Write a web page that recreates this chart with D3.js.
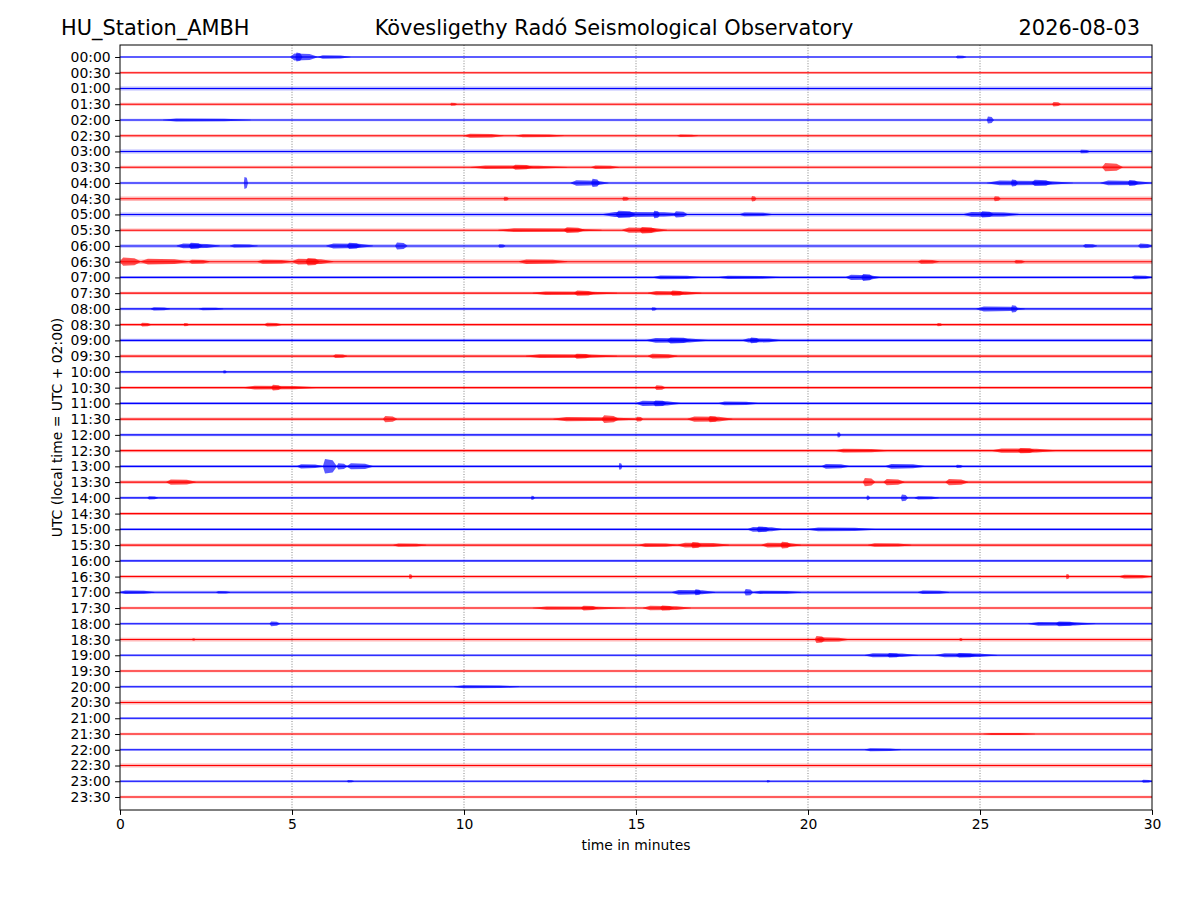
<!DOCTYPE html>
<html>
<head>
<meta charset="utf-8">
<script src="https://cdn.jsdelivr.net/npm/d3@7"></script>
<style>
  html, body { margin: 0; padding: 0; background: #fff; }
  svg { display: block; font-family: "DejaVu Sans", sans-serif; }
</style>
</head>
<body>
<svg id="chart" width="1200" height="900"></svg>
<script>
// ---- DATA ----
const stationTitle = "HU_Station_AMBH";
const observatoryTitle = "Kövesligethy Radó Seismological Observatory";
const dateTitle = "2026-08-03";
const yAxisTitle = "UTC (local time = UTC + 02:00)";
const xAxisTitle = "time in minutes";

const rowLabels = ["00:00","00:30","01:00","01:30","02:00","02:30","03:00","03:30",
  "04:00","04:30","05:00","05:30","06:00","06:30","07:00","07:30",
  "08:00","08:30","09:00","09:30","10:00","10:30","11:00","11:30",
  "12:00","12:30","13:00","13:30","14:00","14:30","15:00","15:30",
  "16:00","16:30","17:00","17:30","18:00","18:30","19:00","19:30",
  "20:00","20:30","21:00","21:30","22:00","22:30","23:00","23:30"];

const xTicks = [0, 5, 10, 15, 20, 25, 30];
const traceColors = ["#0000ff", "#ff0000"];

// background noise half-amplitude per row (fraction of row spacing)
const rowNoise = [0.07,0.08,0.13,0.09,0.08,0.09,0.13,0.09,
  0.08,0.14,0.13,0.10,0.11,0.14,0.09,0.09,
  0.09,0.09,0.10,0.10,0.08,0.09,0.09,0.10,
  0.08,0.11,0.09,0.10,0.08,0.09,0.08,0.10,
  0.08,0.10,0.10,0.08,0.08,0.12,0.08,0.08,
  0.08,0.13,0.08,0.08,0.08,0.12,0.08,0.08];

// bursts per row: [start minute, end minute, half-amplitude (fraction of row spacing)]
const rowBursts = [
  [[4.95,5.75,0.22],[5.1,5.3,0.28],[5.75,6.7,0.11],[24.3,24.6,0.1]],
  [],
  [],
  [[9.6,9.8,0.1],[27.1,27.35,0.14]],
  [[1.25,3.8,0.09],[25.2,25.4,0.22]],
  [[10.0,11.15,0.13],[11.5,12.9,0.09],[16.2,16.8,0.08]],
  [[27.9,28.2,0.11]],
  [[10.2,13.0,0.11],[11.4,12.0,0.16],[13.7,14.5,0.11],[28.55,29.15,0.26]],
  [[3.6,3.72,0.38],[13.1,14.2,0.17],[13.7,13.95,0.26],[25.2,27.7,0.15],[25.9,26.1,0.22],[26.5,27.1,0.2],[28.5,30.0,0.15],[29.3,29.6,0.19]],
  [[11.15,11.3,0.13],[14.6,14.8,0.13],[18.35,18.5,0.17],[25.4,25.6,0.16]],
  [[14.0,16.6,0.16],[14.4,15.0,0.23],[15.5,15.7,0.24],[16.1,16.5,0.2],[18.0,19.0,0.12],[24.5,26.2,0.15],[25.0,25.4,0.2]],
  [[11.0,14.0,0.12],[12.9,13.5,0.18],[14.6,15.9,0.17],[15.1,15.6,0.21]],
  [[1.65,2.9,0.15],[2.0,2.4,0.2],[3.2,4.0,0.1],[6.0,7.35,0.16],[6.6,7.0,0.2],[8.0,8.35,0.22],[11.0,11.2,0.11],[28.0,28.4,0.12],[29.6,30.0,0.15]],
  [[0.0,0.6,0.26],[0.6,2.0,0.18],[2.0,2.6,0.13],[4.0,5.0,0.13],[5.0,6.2,0.18],[5.4,5.8,0.24],[11.6,13.0,0.14],[23.2,23.8,0.13],[26.0,26.3,0.11]],
  [[15.5,16.9,0.12],[17.4,19.2,0.1],[21.1,22.1,0.17],[21.55,21.9,0.22],[29.4,30.0,0.12]],
  [[12.0,14.45,0.11],[13.2,13.8,0.17],[15.35,16.9,0.13],[16.0,16.4,0.17]],
  [[0.9,1.45,0.1],[2.3,3.0,0.08],[15.45,15.6,0.11],[24.9,26.3,0.16],[25.9,26.1,0.23]],
  [[0.6,0.9,0.12],[1.85,2.0,0.1],[4.2,4.7,0.12],[23.75,23.9,0.1]],
  [[15.3,17.1,0.15],[15.9,16.6,0.19],[18.1,19.2,0.14],[18.3,18.6,0.18]],
  [[6.2,6.6,0.12],[11.8,14.45,0.12],[13.2,13.7,0.16],[15.35,16.2,0.15]],
  [[3.0,3.1,0.1]],
  [[3.6,5.7,0.12],[4.4,4.7,0.18],[15.55,15.85,0.15]],
  [[15.0,16.3,0.16],[15.5,15.9,0.19],[17.4,18.55,0.12]],
  [[7.65,8.05,0.2],[12.6,15.1,0.13],[14.0,14.5,0.24],[15.0,15.2,0.15],[16.5,17.8,0.17],[17.1,17.4,0.2]],
  [[20.85,20.95,0.17]],
  [[20.8,22.3,0.12],[25.35,27.2,0.14],[26.1,26.6,0.17]],
  [[5.15,5.9,0.13],[5.9,6.3,0.46],[6.3,6.6,0.2],[6.6,7.35,0.19],[14.5,14.6,0.22],[20.4,21.2,0.15],[22.25,23.4,0.15],[24.3,24.5,0.1]],
  [[1.35,2.2,0.17],[21.6,21.95,0.26],[22.2,22.8,0.2],[24.0,24.65,0.2]],
  [[0.8,1.1,0.1],[11.95,12.05,0.13],[21.7,21.8,0.15],[22.7,22.9,0.21],[23.1,23.8,0.1]],
  [],
  [[18.25,19.25,0.15],[18.5,18.9,0.18],[20.0,21.95,0.12]],
  [[7.95,8.9,0.1],[15.1,16.2,0.12],[16.2,17.7,0.15],[16.6,16.9,0.2],[18.65,19.8,0.15],[19.2,19.5,0.21],[21.75,23.0,0.11]],
  [],
  [[8.4,8.5,0.16],[27.5,27.6,0.17],[29.05,30.0,0.12]],
  [[0.0,1.0,0.11],[2.8,3.2,0.08],[16.05,17.3,0.15],[16.7,16.9,0.19],[18.15,18.4,0.21],[18.4,19.8,0.1],[23.2,24.1,0.11]],
  [[12.0,14.7,0.1],[13.4,13.9,0.15],[15.2,16.6,0.14],[15.7,16.1,0.16]],
  [[4.35,4.65,0.15],[26.4,28.35,0.12],[27.2,27.8,0.15]],
  [[2.1,2.2,0.08],[20.2,21.2,0.14],[20.2,20.5,0.22],[24.4,24.5,0.1]],
  [[21.65,23.2,0.13],[22.3,22.7,0.14],[23.7,25.5,0.13],[24.3,24.9,0.14]],
  [],
  [[9.7,11.6,0.1]],
  [],
  [],
  [[25.1,26.6,0.07]],
  [[21.65,22.7,0.1]],
  [],
  [[6.6,6.8,0.08],[18.8,18.9,0.08],[29.7,30.0,0.09]],
  []
];

// ---- LAYOUT ----
const svg = d3.select("#chart");
const W = 1200, H = 900;
const plot = { left: 120, right: 1152, top: 45, bottom: 810 };

const x = d3.scaleLinear().domain([0, 30]).range([plot.left, plot.right]);
const y = d3.scaleLinear().domain([-0.762, 47.826]).range([plot.top, plot.bottom]);

svg.append("rect").attr("width", W).attr("height", H).attr("fill", "#fff");

// clip
svg.append("defs").append("clipPath").attr("id", "clip")
  .append("rect").attr("x", plot.left).attr("y", plot.top)
  .attr("width", plot.right - plot.left).attr("height", plot.bottom - plot.top);

// vertical dotted grid
svg.append("g").selectAll("line").data(xTicks.filter(t => t > 0 && t < 30)).join("line")
  .attr("x1", d => x(d)).attr("x2", d => x(d))
  .attr("y1", plot.top).attr("y2", plot.bottom)
  .attr("stroke", "#333").attr("stroke-width", 0.6)
  .attr("stroke-dasharray", "1,1.6");

const traces = svg.append("g").attr("clip-path", "url(#clip)");

const area = d3.area()
  .x(d => x(d[0]))
  .y0(d => y(d[1] + d[2]))
  .y1(d => y(d[1] - d[2]));

rowLabels.forEach((lab, i) => {
  const col = traceColors[i % 2];
  const g = traces.append("g");
  // noise band
  g.append("path")
    .datum([[0, i, rowNoise[i]], [30, i, rowNoise[i]]])
    .attr("d", area)
    .attr("fill", col).attr("fill-opacity", 0.28);
  // baseline
  g.append("line")
    .attr("x1", x(0)).attr("x2", x(30))
    .attr("y1", y(i)).attr("y2", y(i))
    .attr("stroke", col).attr("stroke-width", 1.1);
  // bursts
  rowBursts[i].forEach(b => {
    const [s, e, a] = b;
    const w = e - s;
    const pts = [[s, i, 0.02], [s + w * 0.15, i, a], [e - w * 0.3, i, a * 0.85], [e, i, 0.02]];
    g.append("path").datum(pts).attr("d", area)
      .attr("fill", col).attr("fill-opacity", 0.65);
  });
});

// frame
svg.append("rect")
  .attr("x", plot.left).attr("y", plot.top)
  .attr("width", plot.right - plot.left).attr("height", plot.bottom - plot.top)
  .attr("fill", "none").attr("stroke", "#000").attr("stroke-width", 1);

// axes
const xAxis = d3.axisBottom(x).tickValues(xTicks).tickFormat(d3.format("d"))
  .tickSizeInner(4.9).tickSizeOuter(0).tickPadding(4.5);
const gx = svg.append("g").attr("transform", `translate(0,${plot.bottom})`).call(xAxis);
gx.select(".domain").remove();
gx.selectAll("text").attr("font-size", 13.9).attr("font-family", "DejaVu Sans").attr("fill", "#000");
gx.selectAll("line").attr("stroke", "#000");

const yAxis = d3.axisLeft(y).tickValues(d3.range(rowLabels.length))
  .tickFormat(i => rowLabels[i]).tickSizeInner(4.9).tickSizeOuter(0).tickPadding(4.5);
const gy = svg.append("g").attr("transform", `translate(${plot.left},0)`).call(yAxis);
gy.select(".domain").remove();
gy.selectAll("text").attr("font-size", 13.9).attr("font-family", "DejaVu Sans").attr("fill", "#000");
gy.selectAll("line").attr("stroke", "#000");

// axis titles
svg.append("text").attr("x", (plot.left + plot.right) / 2).attr("y", 850)
  .attr("text-anchor", "middle").attr("font-size", 13.9).text(xAxisTitle);
svg.append("text")
  .attr("transform", `translate(62,${(plot.top + plot.bottom) / 2}) rotate(-90)`)
  .attr("text-anchor", "middle").attr("font-size", 13.9).text(yAxisTitle);

// titles
svg.append("text").attr("x", 61).attr("y", 35).attr("font-size", 20.9).text(stationTitle);
svg.append("text").attr("x", 614).attr("y", 35).attr("text-anchor", "middle").attr("font-size", 20.9).text(observatoryTitle);
svg.append("text").attr("x", 1140).attr("y", 35).attr("text-anchor", "end").attr("font-size", 20.9).text(dateTitle);
</script>
</body>
</html>
